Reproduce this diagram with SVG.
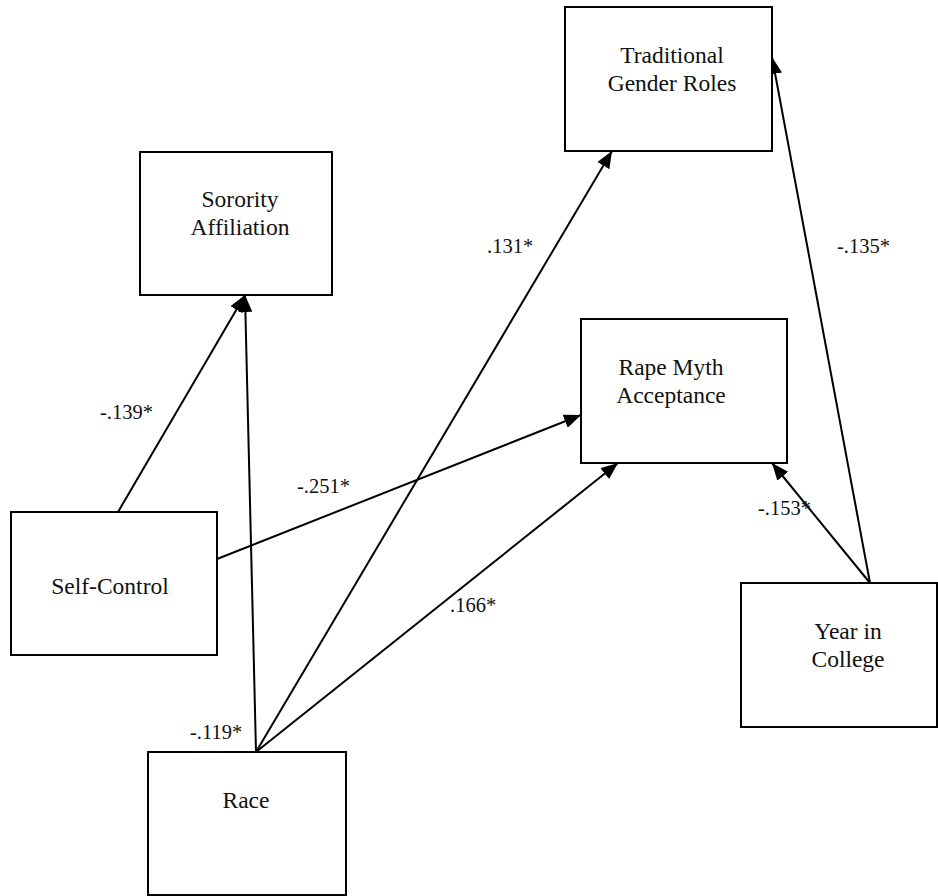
<svg xmlns="http://www.w3.org/2000/svg" width="938" height="896" viewBox="0 0 938 896">
  <style>
    .box { fill: #ffffff; stroke: #000000; stroke-width: 2; }
    .lbl { font-family: "Liberation Serif", "Times New Roman", serif; font-size: 23.5px; fill: #111111; text-anchor: middle; }
    .coef { font-family: "Liberation Serif", "Times New Roman", serif; font-size: 20.5px; fill: #111111; }
    .path { stroke: #000000; stroke-width: 2; fill: none; marker-end: url(#head); }
  </style>
  <defs>
    <marker id="head" markerUnits="userSpaceOnUse" markerWidth="18" markerHeight="14" refX="17" refY="7" orient="auto">
      <path d="M0,0 L17,7 L0,14 Z" fill="#000000"/>
    </marker>
  </defs>
  <rect width="938" height="896" fill="#ffffff"/>

  <!-- connectors -->
  <g id="connectors">
    <line class="path" x1="118" y1="512" x2="245" y2="295"/>
    <line class="path" x1="256" y1="752" x2="245" y2="295"/>
    <line class="path" x1="256" y1="752" x2="612" y2="151"/>
    <line class="path" x1="256" y1="752" x2="618" y2="463"/>
    <line class="path" x1="217" y1="559" x2="581" y2="415"/>
    <line class="path" x1="870" y1="583" x2="772" y2="463"/>
    <line class="path" x1="870" y1="583" x2="772" y2="57"/>
  </g>

  <!-- path coefficients -->
  <g id="coefficients">
    <text class="coef" x="487" y="253">.131*</text>
    <text class="coef" x="837" y="253">-.135*</text>
    <text class="coef" x="100" y="419">-.139*</text>
    <text class="coef" x="297" y="493">-.251*</text>
    <text class="coef" x="758" y="515">-.153*</text>
    <text class="coef" x="450" y="612">.166*</text>
    <text class="coef" x="190" y="739">-.119*</text>
  </g>

  <g id="traditional-gender-roles">
    <rect class="box" x="565" y="7" width="207" height="144"/>
    <text class="lbl" x="672" y="63">Traditional</text>
    <text class="lbl" x="672" y="91">Gender Roles</text>
  </g>

  <g id="sorority-affiliation">
    <rect class="box" x="140" y="152" width="192" height="143"/>
    <text class="lbl" x="240" y="207">Sorority</text>
    <text class="lbl" x="240" y="235">Affiliation</text>
  </g>

  <g id="rape-myth-acceptance">
    <rect class="box" x="581" y="319" width="206" height="144"/>
    <text class="lbl" x="671" y="375">Rape Myth</text>
    <text class="lbl" x="671" y="403">Acceptance</text>
  </g>

  <g id="self-control">
    <rect class="box" x="11" y="512" width="206" height="143"/>
    <text class="lbl" x="110" y="594">Self-Control</text>
  </g>

  <g id="year-in-college">
    <rect class="box" x="741" y="583" width="196" height="144"/>
    <text class="lbl" x="848" y="639">Year in</text>
    <text class="lbl" x="848" y="667">College</text>
  </g>

  <g id="race">
    <rect class="box" x="148" y="752" width="198" height="143"/>
    <text class="lbl" x="246" y="808">Race</text>
  </g>
</svg>
